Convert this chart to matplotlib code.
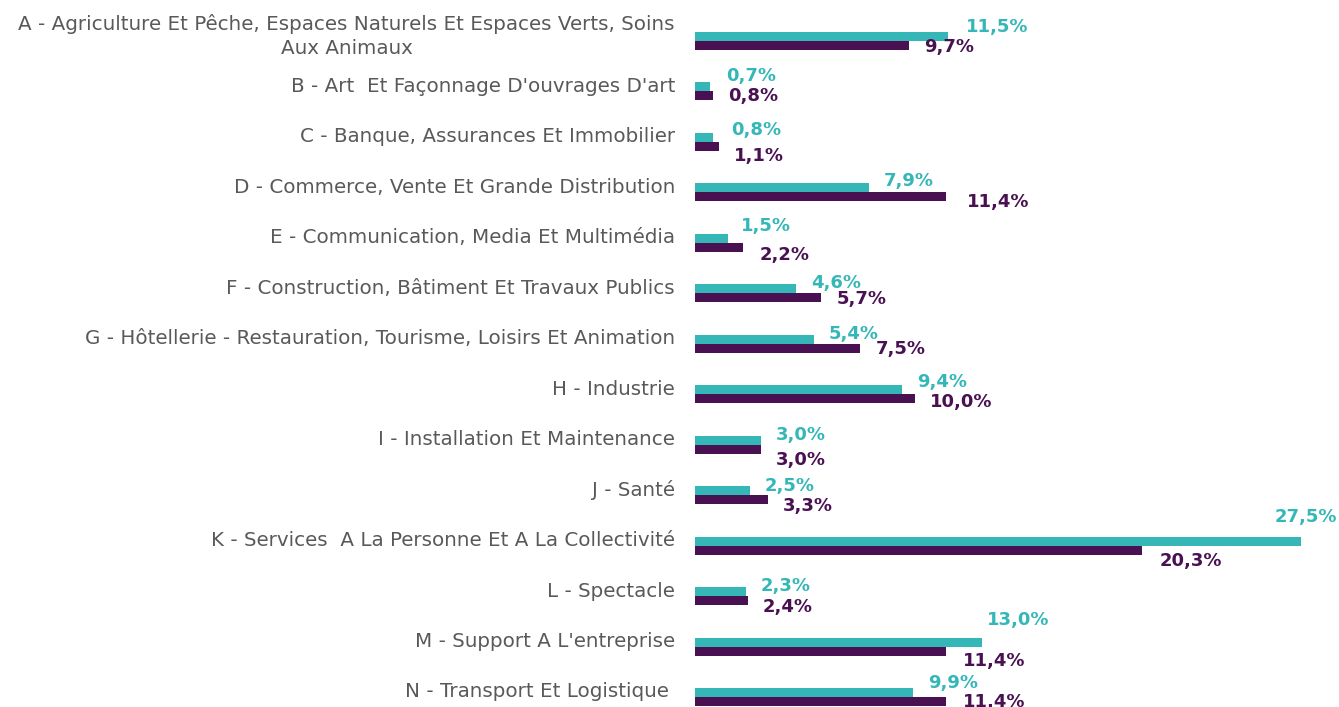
import matplotlib.pyplot as plt
import matplotlib.transforms as mtransforms
import numpy as np

categories = [
    "A - Agriculture Et Pêche, Espaces Naturels Et Espaces Verts, Soins\nAux Animaux",
    "B - Art  Et Façonnage D'ouvrages D'art",
    "C - Banque, Assurances Et Immobilier",
    "D - Commerce, Vente Et Grande Distribution",
    "E - Communication, Media Et Multimédia",
    "F - Construction, Bâtiment Et Travaux Publics",
    "G - Hôtellerie - Restauration, Tourisme, Loisirs Et Animation",
    "H - Industrie",
    "I - Installation Et Maintenance",
    "J - Santé",
    "K - Services  A La Personne Et A La Collectivité",
    "L - Spectacle",
    "M - Support A L'entreprise",
    "N - Transport Et Logistique ",
]
teal_vals = [11.5, 0.7, 0.8, 7.9, 1.5, 4.6, 5.4, 9.4, 3.0, 2.5, 27.5, 2.3, 13.0, 9.9]
purple_vals = [9.7, 0.8, 1.1, 11.4, 2.2, 5.7, 7.5, 10.0, 3.0, 3.3, 20.3, 2.4, 11.4, 11.4]

# label offsets in pixels (dx, dy relative to row centre, dy down positive)
teal_off = [(17, -14), (16, -15), (18, -12), (15, -11), (13, -17), (15, -10), (15, -10),
            (15, -12), (15, -10), (15, -9), (-26, -29), (15, -10), (5, -27), (15, -14)]
purple_off = [(15, 6), (15, 5), (15, 14), (21, 10), (16, 12), (16, 6), (15, 5),
              (15, 8), (15, 15), (15, 11), (17, 15), (15, 11), (17, 14), (17, 5)]

TEAL = '#35B7B8'
PURPLE = '#491152'

W, H = 1339, 707
fig = plt.figure(figsize=(W / 100, H / 100), dpi=100)
ax = fig.add_axes([695 / W, 0, 644 / W, 1])

px_per_unit = 22.04
row_px = 50.46
y0 = 41
n = len(categories)
idx = np.arange(n)
bh = 9 / row_px

ax.barh(idx - bh / 2, teal_vals, bh, color=TEAL)
ax.barh(idx + bh / 2, purple_vals, bh, color=PURPLE)

ax.set_xlim(0, 644 / px_per_unit)
ax.set_ylim((H - y0) / row_px, -y0 / row_px)

for i in range(n):
    for v, off, col in ((teal_vals[i], teal_off[i], TEAL), (purple_vals[i], purple_off[i], PURPLE)):
        ax.annotate(f'{v:.1f}%'.replace('.', ','), (v, i), xytext=(off[0], -off[1]),
                    textcoords='offset pixels', ha='left', va='center',
                    fontsize=13, fontweight='bold', color=col, annotation_clip=False)

# category labels, right-aligned left of the bars, slightly above the row centre
trans = ax.get_yaxis_transform() + mtransforms.ScaledTranslation(-20 / 100, 5 / 100, fig.dpi_scale_trans)
for i, cat in enumerate(categories):
    ax.text(0, i, cat, transform=trans, ha='right', va='center', fontsize=14.3,
            color='#595959', multialignment='center', linespacing=1.35)

ax.set_yticks([])
ax.set_xticks([])
for s in ax.spines.values():
    s.set_visible(False)

fig.savefig('out.png', dpi=100)
